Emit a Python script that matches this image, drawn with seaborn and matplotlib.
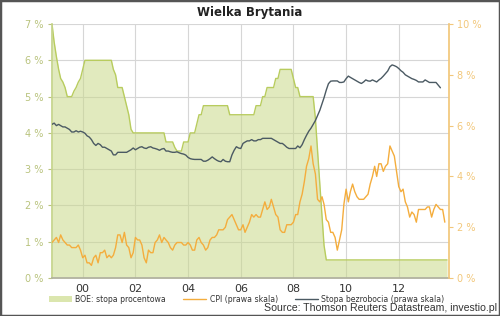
import pandas as pd
import seaborn as sns
import matplotlib.pyplot as plt
import matplotlib.dates as mdates
from matplotlib.patches import Patch, Rectangle
from matplotlib.lines import Line2D

# Dane miesięczne od listopada 1998
START = "1998-11-01"

# Stopa procentowa BOE (lewa skala), XI 1998 - XI 2013
boe = (
    [7.0, 6.5]
    + [6.1, 5.75, 5.5, 5.4, 5.25, 5.0, 5.0, 5.0, 5.15, 5.25, 5.4, 5.5]
    + [5.75, 6.0, 6.0, 6.0, 6.0, 6.0, 6.0, 6.0, 6.0, 6.0, 6.0, 6.0]
    + [6.0, 6.0, 5.75, 5.6, 5.25, 5.25, 5.25, 5.0, 4.75, 4.5, 4.1, 4.0]
    + [4.0, 4.0, 4.0, 4.0, 4.0, 4.0, 4.0, 4.0, 4.0, 4.0, 4.0, 4.0]
    + [4.0, 4.0, 3.75, 3.75, 3.75, 3.75, 3.6, 3.5, 3.5, 3.5, 3.75, 3.75]
    + [3.75, 4.0, 4.0, 4.0, 4.25, 4.5, 4.5, 4.75, 4.75, 4.75, 4.75, 4.75]
    + [4.75, 4.75, 4.75, 4.75, 4.75, 4.75, 4.75, 4.5, 4.5, 4.5, 4.5, 4.5]
    + [4.5, 4.5, 4.5, 4.5, 4.5, 4.5, 4.5, 4.75, 4.75, 4.75, 5.0, 5.0]
    + [5.25, 5.25, 5.25, 5.25, 5.5, 5.5, 5.75, 5.75, 5.75, 5.75, 5.75, 5.75]
    + [5.5, 5.25, 5.25, 5.0, 5.0, 5.0, 5.0, 5.0, 5.0, 5.0, 4.4, 3.5]
    + [2.6, 1.7, 0.9, 0.5, 0.5, 0.5, 0.5, 0.5, 0.5, 0.5, 0.5, 0.5]
    + [0.5, 0.5, 0.5, 0.5, 0.5, 0.5, 0.5, 0.5, 0.5, 0.5, 0.5, 0.5]
    + [0.5, 0.5, 0.5, 0.5, 0.5, 0.5, 0.5, 0.5, 0.5, 0.5, 0.5, 0.5]
    + [0.5, 0.5, 0.5, 0.5, 0.5, 0.5, 0.5, 0.5, 0.5, 0.5, 0.5, 0.5]
    + [0.5, 0.5, 0.5, 0.5, 0.5, 0.5, 0.5, 0.5, 0.5, 0.5, 0.5]
)

# CPI r/r (prawa skala), XI 1998 - X 2013
cpi = (
    [1.4, 1.5]
    + [1.6, 1.4, 1.7, 1.5, 1.4, 1.3, 1.3, 1.2, 1.2, 1.2, 1.3, 1.1]
    + [0.8, 0.9, 0.6, 0.6, 0.5, 0.8, 0.9, 0.6, 1.0, 1.0, 1.1, 0.8]
    + [0.9, 0.8, 0.9, 1.2, 1.7, 1.7, 1.4, 1.8, 1.3, 1.2, 0.8, 1.0]
    + [1.6, 1.5, 1.5, 1.3, 0.8, 0.6, 1.1, 1.0, 1.0, 1.4, 1.5, 1.7]
    + [1.4, 1.6, 1.5, 1.4, 1.2, 1.1, 1.3, 1.4, 1.4, 1.4, 1.3, 1.3]
    + [1.4, 1.3, 1.1, 1.1, 1.5, 1.6, 1.4, 1.3, 1.1, 1.2, 1.5, 1.6]
    + [1.6, 1.7, 1.9, 1.9, 1.9, 2.0, 2.3, 2.4, 2.5, 2.3, 2.1, 1.9]
    + [1.9, 2.1, 1.8, 2.0, 2.2, 2.5, 2.4, 2.5, 2.4, 2.4, 2.7, 3.0]
    + [2.7, 2.8, 3.1, 2.8, 2.5, 2.4, 1.9, 1.8, 1.8, 2.1, 2.1, 2.1]
    + [2.2, 2.5, 2.5, 3.0, 3.3, 3.8, 4.4, 4.7, 5.2, 4.5, 4.1, 3.1]
    + [3.0, 3.2, 2.9, 2.3, 2.2, 1.8, 1.8, 1.6, 1.1, 1.5, 1.9, 2.9]
    + [3.5, 3.0, 3.4, 3.7, 3.4, 3.2, 3.1, 3.1, 3.1, 3.2, 3.3, 3.7]
    + [4.0, 4.4, 4.0, 4.5, 4.5, 4.2, 4.4, 4.5, 5.2, 5.0, 4.8, 4.2]
    + [3.6, 3.4, 3.5, 3.0, 2.8, 2.4, 2.6, 2.5, 2.2, 2.7, 2.7, 2.7]
    + [2.7, 2.8, 2.8, 2.4, 2.7, 2.9, 2.8, 2.7, 2.7, 2.2]
)

# Stopa bezrobocia (prawa skala), XI 1998 - VIII 2013
bezrobocie = (
    [6.05, 6.1]
    + [6.0, 6.05, 6.0, 5.95, 5.95, 5.9, 5.85, 5.75, 5.75, 5.8, 5.75, 5.78]
    + [5.75, 5.7, 5.6, 5.55, 5.45, 5.3, 5.22, 5.3, 5.25, 5.15, 5.15, 5.1]
    + [5.05, 5.0, 4.85, 4.85, 4.95, 4.95, 4.95, 4.95, 4.95, 5.0, 5.05, 5.12]
    + [5.05, 5.1, 5.15, 5.17, 5.12, 5.1, 5.15, 5.17, 5.12, 5.1, 5.07, 5.03]
    + [5.08, 5.1, 5.0, 5.0, 4.97, 4.95, 4.95, 4.97, 4.93, 4.9, 4.88, 4.84]
    + [4.75, 4.7, 4.68, 4.67, 4.67, 4.67, 4.67, 4.6, 4.6, 4.64, 4.7, 4.77]
    + [4.7, 4.64, 4.6, 4.58, 4.67, 4.6, 4.58, 4.58, 4.85, 5.03, 5.17, 5.12]
    + [5.1, 5.3, 5.35, 5.4, 5.4, 5.45, 5.4, 5.4, 5.45, 5.45, 5.5, 5.5]
    + [5.5, 5.5, 5.5, 5.45, 5.4, 5.35, 5.3, 5.3, 5.23, 5.15, 5.1, 5.1]
    + [5.1, 5.1, 5.2, 5.13, 5.25, 5.45, 5.62, 5.78, 5.9, 6.05, 6.2, 6.4]
    + [6.6, 6.87, 7.1, 7.4, 7.65, 7.75, 7.76, 7.76, 7.76, 7.7, 7.7, 7.72]
    + [7.85, 7.95, 7.9, 7.85, 7.8, 7.75, 7.7, 7.66, 7.72, 7.8, 7.76, 7.75]
    + [7.8, 7.76, 7.72, 7.8, 7.86, 7.95, 8.05, 8.15, 8.32, 8.39, 8.36, 8.32]
    + [8.25, 8.16, 8.1, 8.0, 7.95, 7.9, 7.85, 7.82, 7.78, 7.72, 7.72, 7.72]
    + [7.8, 7.75, 7.7, 7.7, 7.7, 7.7, 7.6, 7.49]
)

left_ticks = [0, 1, 2, 3, 4, 5, 6, 7]
right_ticks = [0, 2, 4, 6, 8, 10]
labels = ["BOE: stopa procentowa", "CPI (prawa skala)", "Stopa bezrobocia (prawa skala)"]

# kolory
c_area = "#c9d98a"
c_edge = "#b8cc5e"
c_cpi = "#f4ad3d"
c_ue = "#4b5a63"
c_left = "#b9c37d"
c_right = "#f2c77a"

df_boe = pd.DataFrame({"data": pd.date_range(START, periods=len(boe), freq="MS"), "v": boe})
df_cpi = pd.DataFrame({"data": pd.date_range(START, periods=len(cpi), freq="MS"), "v": cpi})
df_ue = pd.DataFrame({"data": pd.date_range(START, periods=len(bezrobocie), freq="MS"), "v": bezrobocie})

sns.set_theme(style="white")
plt.rcParams["font.family"] = ["DejaVu Sans"]

fig = plt.figure(figsize=(5, 3.16), dpi=100)
ax = fig.add_axes([0.104, 0.12, 0.794, 0.804])
ax2 = ax.twinx()
ax2.set_position([0.104, 0.12, 0.794, 0.804])

# obszar stopy procentowej
ax.fill_between(df_boe["data"], df_boe["v"], 0, color=c_area, alpha=0.55, lw=0)
sns.lineplot(data=df_boe, x="data", y="v", ax=ax, color=c_edge, lw=1)

# linie na prawej skali
sns.lineplot(data=df_cpi, x="data", y="v", ax=ax2, color=c_cpi, lw=1)
sns.lineplot(data=df_ue, x="data", y="v", ax=ax2, color=c_ue, lw=1)

x0 = pd.Timestamp("1998-11-01")
x1 = pd.Timestamp("2013-11-28")
ax.set_xlim(x0, x1)
ax.set_ylim(0, 7)
ax2.set_ylim(0, 10)

ax.set_yticks(left_ticks)
ax.set_yticklabels([f"{t} %" for t in left_ticks])
ax2.set_yticks(right_ticks)
ax2.set_yticklabels([f"{t} %" for t in right_ticks])

ax.xaxis.set_major_locator(mdates.YearLocator(2))
ax.xaxis.set_major_formatter(mdates.DateFormatter("%y"))
ax.xaxis.set_minor_locator(mdates.MonthLocator(bymonth=[1, 4, 7, 10]))

ax.grid(True, which="major", color="#d6d6d6", lw=0.8)
ax.set_xlabel("")
ax.set_ylabel("")
ax2.set_xlabel("")
ax2.set_ylabel("")

ax.tick_params(axis="y", colors=c_left, labelsize=7, length=3, pad=3, width=0.8)
ax.tick_params(axis="x", which="major", labelcolor="#333333", labelsize=8, length=0, pad=4)
ax.tick_params(axis="x", which="minor", color="#a0a0a0", direction="in", length=2, width=0.6)
ax2.tick_params(axis="y", colors=c_right, labelsize=7, length=3, pad=3, width=0.8)

for s in ["top", "right"]:
    ax.spines[s].set_visible(False)
ax.spines["left"].set_color("#c5d48a")
ax.spines["bottom"].set_color("#b0b0a0")
for s in ["top", "left", "bottom"]:
    ax2.spines[s].set_visible(False)
ax2.spines["right"].set_color(c_right)

fig.text(0.5, 0.962, "Wielka Brytania", ha="center", va="center",
         fontsize=8.5, fontweight="bold", color="#222222")

handles = [
    Patch(facecolor="#dbe6ae", edgecolor="none"),
    Line2D([], [], color=c_cpi, lw=1),
    Line2D([], [], color=c_ue, lw=1),
]
fig.legend(handles, labels, loc="center left", bbox_to_anchor=(0.098, 0.052),
           ncol=3, frameon=False, fontsize=5.6, handlelength=2.9, handleheight=0.8,
           handletextpad=0.5, columnspacing=2.2, labelcolor="#333333",
           borderpad=0, borderaxespad=0)

fig.text(0.994, 0.024, "Source: Thomson Reuters Datastream, investio.pl",
         ha="right", va="center", fontsize=7.6, color="#333333",
         family=["Liberation Sans", "DejaVu Sans"])

fig.patches.append(Rectangle((0, 0), 1, 1, transform=fig.transFigure, fill=False,
                             edgecolor="#555555", lw=2.5))

plt.savefig("out.png", dpi=100)
